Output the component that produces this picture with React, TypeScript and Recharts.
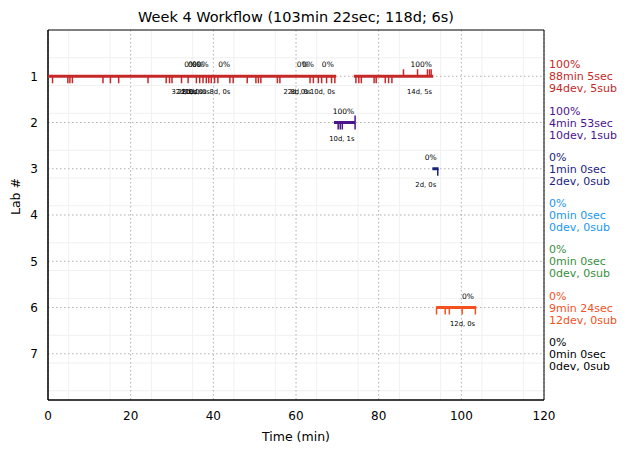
import { ComposedChart, Scatter, XAxis, YAxis, CartesianGrid, ReferenceArea } from 'recharts';

const labIds = [1, 2, 3, 4, 5, 6, 7];
const labColors = ['#c62828', '#4a148c', '#1a237e', '#2196f3', '#388e3c', '#f4511e', '#000000'];
const labPct = ['100%', '100%', '0%', '0%', '0%', '0%', '0%'];
const labTime = ['88min 5sec', '4min 53sec', '1min 0sec', '0min 0sec', '0min 0sec', '9min 24sec', '0min 0sec'];
const labCounts = ['94dev, 5sub', '10dev, 1sub', '2dev, 0sub', '0dev, 0sub', '0dev, 0sub', '12dev, 0sub', '0dev, 0sub'];

const xTicks = [0, 20, 40, 60, 80, 100, 120];
const yTicks = [1, 2, 3, 4, 5, 6, 7];

// active spans per lab (minutes)
const segments = [
  { lab: 1, start: 0, end: 69.7 },
  { lab: 1, start: 74.0, end: 93.2 },
  { lab: 2, start: 69.2, end: 74.3 },
  { lab: 3, start: 93.0, end: 94.5 },
  { lab: 6, start: 93.9, end: 103.6 },
];

const lab1Down = [1.1, 4.8, 5.3, 5.9, 13.3, 15.1, 17.1, 24.2, 28.6, 29.4, 30.0, 32.3, 33.9, 35.9, 36.7,
  37.5, 38.3, 38.9, 39.5, 40.3, 41.1, 44.0, 44.8, 48.2, 50.3, 50.9, 51.5, 55.5, 56.1, 63.4, 64.2, 65.4,
  66.2, 67.4, 68.6, 69.4, 74.5, 75.2, 75.8, 78.9, 79.4, 81.6, 82.4, 83.2];
const lab1Up = [86.0, 89.4, 91.8, 92.3, 92.7];
const lab2Down = [70.2, 70.7, 71.2, 74.3];
const lab2Up = [74.3];
const lab3Down = [94.3];
const lab6Down = [94.0, 96.1, 97.1, 100.2, 103.4];

const topLabels = [
  { lab: 1, x: 34.4, t: '0%' }, { lab: 1, x: 35.3, t: '0%' }, { lab: 1, x: 36.3, t: '0%' },
  { lab: 1, x: 37.4, t: '0%' }, { lab: 1, x: 42.6, t: '0%' }, { lab: 1, x: 61.6, t: '0%' },
  { lab: 1, x: 62.9, t: '0%' }, { lab: 1, x: 67.7, t: '0%' }, { lab: 1, x: 90.3, t: '100%' },
  { lab: 2, x: 71.5, t: '100%' }, { lab: 3, x: 92.6, t: '0%' }, { lab: 6, x: 101.6, t: '0%' },
];
const bottomLabels = [
  { lab: 1, x: 32.9, t: '32d, 0s' }, { lab: 1, x: 34.4, t: '28d, 0s' }, { lab: 1, x: 35.3, t: '20d, 0s' },
  { lab: 1, x: 36.1, t: '16d, 0s' }, { lab: 1, x: 41.6, t: '8d, 0s' }, { lab: 1, x: 60.0, t: '22d, 0s' },
  { lab: 1, x: 61.2, t: '8d, 0s' }, { lab: 1, x: 66.4, t: '10d, 0s' }, { lab: 1, x: 89.9, t: '14d, 5s' },
  { lab: 2, x: 71.1, t: '10d, 1s' }, { lab: 3, x: 91.4, t: '2d, 0s' }, { lab: 6, x: 100.3, t: '12d, 0s' },
];

const minorX = Array.from({ length: 25 }, (_, i) => i * 5).filter((v) => v % 20 !== 0);
const minorY = Array.from({ length: 41 }, (_, i) => Math.round(i * 2) / 10).filter((v) => v % 1 !== 0);

const font = 'DejaVu Sans, sans-serif';

const pts = (xs: number[], lab: number) => xs.map((x) => ({ x, y: lab }));

const tickShape = (color: string, dir: number) => (props: any) => {
  const { cx, cy } = props;
  return <line x1={cx} x2={cx} y1={cy} y2={cy + dir * 7} stroke={color} strokeWidth={1.5} />;
};

export default function App() {
  return (
    <div style={{ position: 'absolute', left: 0, top: 0, width: 627, height: 453, background: '#fff', fontFamily: font }}>
      <div style={{ position: 'absolute', top: 7, left: 48, width: 496, textAlign: 'center', fontSize: 14.5, lineHeight: '20px', color: '#000' }}>
        Week 4 Workflow (103min 22sec; 118d; 6s)
      </div>
      <ComposedChart width={627} height={453} margin={{ top: 30, right: 83, bottom: 13, left: 0 }} style={{ fontFamily: font }}>
        <CartesianGrid verticalValues={minorX} horizontalValues={minorY} stroke="#f0f0f0" strokeWidth={1} />
        <CartesianGrid verticalValues={xTicks} horizontalValues={yTicks} stroke="#b0b0b0" strokeDasharray="1.5 2.5" />
        <XAxis
          type="number"
          dataKey="x"
          domain={[0, 120]}
          ticks={xTicks}
          height={40}
          tickLine={false}
          tickSize={5}
          tickMargin={6}
          axisLine={{ stroke: '#000' }}
          tick={{ fill: '#000', fontSize: 12 }}
          label={{ value: 'Time (min)', position: 'insideBottom', offset: -1, fill: '#000', fontSize: 12.5 }}
        />
        <YAxis
          type="number"
          dataKey="y"
          domain={[0, 8]}
          reversed
          ticks={yTicks}
          width={48}
          tickLine={false}
          tickSize={5}
          tickMargin={5}
          axisLine={{ stroke: '#000' }}
          tick={{ fill: '#000', fontSize: 12 }}
          label={{ value: 'Lab #', angle: -90, position: 'insideLeft', offset: 16, fill: '#000', fontSize: 12.5 }}
        />
        {segments.map((s, i) => (
          <Scatter
            key={'seg' + i}
            data={[{ x: s.start, y: s.lab }, { x: s.end, y: s.lab }]}
            fill={labColors[s.lab - 1]}
            line={{ stroke: labColors[s.lab - 1], strokeWidth: 3 }}
            shape={() => <g />}
            isAnimationActive={false}
          />
        ))}
        <Scatter data={pts(lab1Down, 1)} shape={tickShape(labColors[0], 1)} isAnimationActive={false} />
        <Scatter data={pts(lab1Up, 1)} shape={tickShape(labColors[0], -1)} isAnimationActive={false} />
        <Scatter data={pts(lab2Down, 2)} shape={tickShape(labColors[1], 1)} isAnimationActive={false} />
        <Scatter data={pts(lab2Up, 2)} shape={tickShape(labColors[1], -1)} isAnimationActive={false} />
        <Scatter data={pts(lab3Down, 3)} shape={tickShape(labColors[2], 1)} isAnimationActive={false} />
        <Scatter data={pts(lab6Down, 6)} shape={tickShape(labColors[5], 1)} isAnimationActive={false} />
        <Scatter
          data={topLabels.map((d) => ({ x: d.x, y: d.lab, t: d.t }))}
          shape={(p: any) => (
            <text x={p.cx} y={p.cy - 9} textAnchor="middle" fontSize={7.5} fill="#000">{p.payload.t}</text>
          )}
          isAnimationActive={false}
        />
        <Scatter
          data={bottomLabels.map((d) => ({ x: d.x, y: d.lab, t: d.t }))}
          shape={(p: any) => (
            <text x={p.cx} y={p.cy + 18} textAnchor="middle" fontSize={6.8} fill="#000">{p.payload.t}</text>
          )}
          isAnimationActive={false}
        />
        <Scatter
          data={labIds.map((lab) => ({ x: 120, y: lab }))}
          shape={(p: any) => {
            const i = p.payload.y - 1;
            return (
              <text fontSize={11} fill={labColors[i]}>
                <tspan x={p.cx + 5} y={p.cy - 8}>{labPct[i]}</tspan>
                <tspan x={p.cx + 5} y={p.cy + 4}>{labTime[i]}</tspan>
                <tspan x={p.cx + 5} y={p.cy + 16}>{labCounts[i]}</tspan>
              </text>
            );
          }}
          isAnimationActive={false}
        />
        <ReferenceArea x1={0} x2={120} y1={0} y2={8} fill="none" stroke="#000" strokeWidth={1} ifOverflow="visible" />
      </ComposedChart>
    </div>
  );
}
